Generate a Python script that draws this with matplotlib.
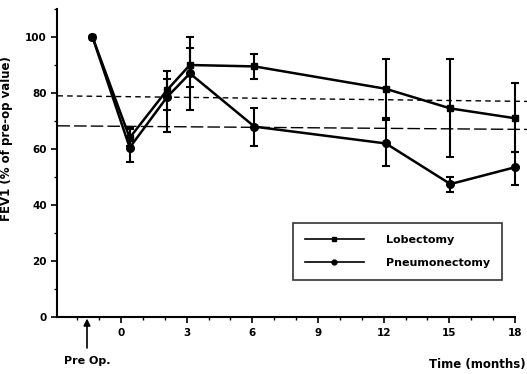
import matplotlib

matplotlib.use("Agg")
import matplotlib.pyplot as plt
from matplotlib.lines import Line2D
from matplotlib.ticker import MultipleLocator

# months after surgery; pre-op value drawn left of zero
months = [-1.3, 0.4, 2.1, 3.15, 6.1, 12.1, 15.05, 18.0]

lob_mean = [100, 64, 81, 90, 89.5, 81.5, 74.5, 71]
lob_lo = [0, 3, 7, 8, 4.5, 10.5, 17.5, 12]
lob_hi = [0, 3, 7, 10, 4.5, 10.5, 17.5, 12.5]

pneu_mean = [100, 60.5, 78.5, 87, 68, 62, 47.5, 53.5]
pneu_lo = [0, 5, 12.5, 13, 7, 8, 3, 6.5]
pneu_hi = [0, 7, 6.5, 9, 6.5, 8.5, 2.5, 5.5]

# reference lines (slightly sloped, as printed)
ref_x = [-2.9, 18.6]
ref_upper = [79, 77]
ref_lower = [68.3, 67]

x_ticks = [0, 3, 6, 9, 12, 15, 18]
y_ticks = [0, 20, 40, 60, 80, 100]

plt.rcParams["font.family"] = ["DejaVu Sans"]
plt.rcParams["font.weight"] = "bold"

fig = plt.figure(figsize=(5.27, 3.74), dpi=100)
ax = fig.add_axes([0.109, 0.152, 0.889, 0.824])

ax.plot(ref_x, ref_upper, color="black", lw=1.0, dashes=(4, 3), clip_on=False)
ax.plot(ref_x, ref_lower, color="black", lw=1.0, dashes=(9, 3), clip_on=False)

ax.errorbar(months, lob_mean, yerr=[lob_lo, lob_hi], color="black", lw=1.8,
            marker="s", ms=5, mfc="black", mec="black", elinewidth=1.5,
            capsize=3, capthick=1.5, clip_on=False)
ax.errorbar(months, pneu_mean, yerr=[pneu_lo, pneu_hi], color="black", lw=1.8,
            marker="o", ms=5.5, mfc="black", mec="black", elinewidth=1.5,
            capsize=3, capthick=1.5, clip_on=False)

ax.set_xlim(-2.9, 18.5)
ax.set_ylim(0, 110)
ax.spines["top"].set_visible(False)
ax.spines["right"].set_visible(False)
ax.spines["bottom"].set_bounds(-2.9, 18)
ax.spines["left"].set_linewidth(1.5)
ax.spines["bottom"].set_linewidth(1.5)

ax.set_xticks(x_ticks)
ax.xaxis.set_minor_locator(MultipleLocator(1))
ax.set_yticks(y_ticks)
ax.yaxis.set_minor_locator(MultipleLocator(10))
ax.tick_params(axis="both", which="major", length=4, width=1.2, labelsize=7.5, direction="out")
ax.tick_params(axis="both", which="minor", length=2.5, width=1.0)
for lbl in ax.get_xticklabels() + ax.get_yticklabels():
    lbl.set_fontweight("bold")

ax.set_ylabel("FEV1 (% of pre-op value)", fontsize=8.5, fontweight="bold")
ax.yaxis.set_label_coords(-0.095, 0.58)
fig.text(0.997, 0.025, "Time (months)", ha="right", va="center", fontsize=8.5,
         fontweight="bold")

ax.annotate("", xy=(-1.55, 0), xytext=(-1.55, -11), annotation_clip=False,
            arrowprops=dict(arrowstyle="-|>", color="black", lw=1.2,
                            mutation_scale=10, shrinkA=0, shrinkB=1))
ax.text(-1.55, -15.5, "Pre Op.", ha="center", va="center", fontsize=8,
        fontweight="bold", clip_on=False)

handles = [
    Line2D([], [], color="black", lw=1.2, marker="s", ms=3.5, label="Lobectomy"),
    Line2D([], [], color="black", lw=1.2, marker="o", ms=3.5, label="Pneumonectomy"),
]
leg = ax.legend(handles=handles, loc="upper left", bbox_to_anchor=(0.502, 0.305),
                borderaxespad=0, frameon=True, fancybox=False, edgecolor="black",
                fontsize=8, handlelength=5.3, borderpad=1.1, labelspacing=1.1,
                handletextpad=2.0)
leg.get_frame().set_linewidth(1.2)

fig.savefig("out.png", dpi=100)
